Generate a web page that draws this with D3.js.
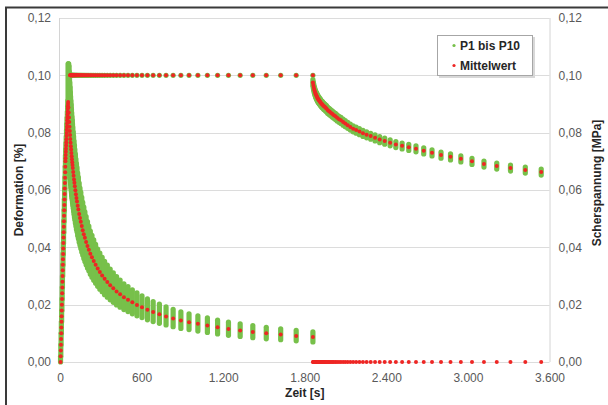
<!DOCTYPE html>
<html><head><meta charset="utf-8">
<script src="https://cdn.jsdelivr.net/npm/d3@7"></script>
<style>body{margin:0;background:#fff}svg{display:block}</style>
</head><body>
<svg id="c" width="608" height="405"></svg>
<script>
// ---------- DATA ----------
const xTicks = [0, 600, 1200, 1800, 2400, 3000, 3600];
const yTicks = [0, 0.02, 0.04, 0.06, 0.08, 0.10, 0.12];
const seriesNames = ["P1 bis P10", "Mittelwert"];
const xTitle = "Zeit [s]", yLeftTitle = "Deformation [%]", yRightTitle = "Scherspannung [MPa]";
const holdStart = 60, unloadAt = 1860;   // phase start times [s]

// Phase 1: loading ramp (absolute time, mean)
const rampT = [4,5,6,7,8,9,10,11,12,13,14,15,16,17,18,19,20,21,22,23,24,25,26,27,28,29,30,31,32,33,34,35,36,37,38,39,40,41,42,43,44,45,46,47,48,49,50,51,52,53,54,55,56,57,58,59];
const rampMean = [0,0.002,0.004,0.006,0.008,0.010,0.012,0.014,0.016,0.018,0.020,0.022,0.024,0.026,0.028,0.030,0.032,0.0339,0.0358,0.0377,0.0396,0.0415,0.0434,0.0453,0.0472,0.0491,0.0510,0.0529,0.0548,0.0567,0.0586,0.0605,0.0624,0.0643,0.0662,0.0681,0.0700,0.0711,0.0722,0.0733,0.0744,0.0755,0.0766,0.0777,0.0788,0.0799,0.0810,0.0821,0.0832,0.0843,0.0853,0.0863,0.0873,0.0883,0.0892,0.0900];
// P1..P10 spread on the ramp
const rampGT = [4,6,8,10,12,14,16,18,20,22,24,26,28,30,32,34,36,38,40,42,44,46,48,50,52,54,56,58];
const rampGLo = [0,0.002,0.006,0.010,0.014,0.018,0.022,0.026,0.030,0.0338,0.0376,0.0414,0.0452,0.0490,0.0528,0.0566,0.0604,0.0642,0.0680,0.0702,0.0724,0.0746,0.0768,0.0790,0.0812,0.0833,0.0853,0.0872];
const rampGHi = [0.002,0.006,0.010,0.014,0.018,0.022,0.026,0.030,0.034,0.0378,0.0416,0.0454,0.0492,0.0530,0.0568,0.0606,0.0644,0.0682,0.0720,0.0742,0.0764,0.0786,0.0808,0.0830,0.0852,0.0873,0.0893,0.0912];

// Phase 2: hold (time relative to holdStart)
const holdT = [0,2,4,6,8,10,12,14,16,18,20,22,24,26,28,30,32,34,37,40,43,46,49,53,57,61,65,70,75,81,87,93,100,107,115,123,132,142,152,163,175,188,202,217,233,250,268,288,309,332,356,382,410,440,472,506,543,583,625,671,720,772,829,889,954,1024,1099,1179,1265,1358,1457,1563,1677,1800];
const holdStressMean = [0.0907,0.0888,0.0870,0.0853,0.0837,0.0821,0.0806,0.0792,0.0778,0.0765,0.0753,0.0741,0.0729,0.0718,0.0707,0.0697,0.0687,0.0677,0.0663,0.0650,0.0637,0.0625,0.0613,0.0599,0.0585,0.0572,0.0560,0.0545,0.0532,0.0516,0.0502,0.0489,0.0474,0.0460,0.0446,0.0433,0.0419,0.0405,0.0392,0.0378,0.0365,0.0352,0.0339,0.0326,0.0314,0.0302,0.0290,0.0279,0.0268,0.0257,0.0246,0.0236,0.0226,0.0217,0.0208,0.0199,0.0191,0.0182,0.0174,0.0167,0.0159,0.0152,0.0145,0.0139,0.0133,0.0127,0.0121,0.0115,0.0110,0.0105,0.0100,0.0096,0.0091,0.0087];
const holdStressLo = [0.0735,0.0719,0.0705,0.0691,0.0678,0.0665,0.0653,0.0642,0.0630,0.0620,0.0610,0.0600,0.0590,0.0582,0.0573,0.0565,0.0556,0.0548,0.0537,0.0527,0.0516,0.0506,0.0497,0.0485,0.0474,0.0463,0.0454,0.0441,0.0431,0.0418,0.0407,0.0396,0.0384,0.0373,0.0361,0.0351,0.0339,0.0328,0.0318,0.0306,0.0296,0.0285,0.0275,0.0264,0.0254,0.0245,0.0235,0.0226,0.0217,0.0208,0.0199,0.0191,0.0183,0.0176,0.0168,0.0161,0.0155,0.0147,0.0141,0.0135,0.0129,0.0123,0.0117,0.0113,0.0108,0.0103,0.0098,0.0093,0.0089,0.0085,0.0081,0.0078,0.0074,0.0070];
const holdStressHi = [0.1040,0.1040,0.1040,0.1032,0.1013,0.0993,0.0975,0.0958,0.0941,0.0926,0.0911,0.0897,0.0882,0.0869,0.0855,0.0843,0.0831,0.0819,0.0802,0.0787,0.0771,0.0756,0.0742,0.0725,0.0708,0.0692,0.0678,0.0659,0.0644,0.0624,0.0607,0.0592,0.0574,0.0557,0.0540,0.0524,0.0507,0.0490,0.0474,0.0457,0.0442,0.0426,0.0410,0.0394,0.0380,0.0365,0.0351,0.0338,0.0324,0.0311,0.0298,0.0286,0.0273,0.0263,0.0252,0.0241,0.0231,0.0220,0.0211,0.0202,0.0192,0.0184,0.0175,0.0168,0.0161,0.0154,0.0146,0.0139,0.0133,0.0127,0.0121,0.0116,0.0110,0.0105];
const holdDefMean = [null,null,null,null,null,null,null,0.1,0.1,0.1,0.1,0.1,0.1,0.1,0.1,0.1,0.1,0.1,0.1,0.1,0.1,0.1,0.1,0.1,0.1,0.1,0.1,0.1,0.1,0.1,0.1,0.1,0.1,0.1,0.1,0.1,0.1,0.1,0.1,0.1,0.1,0.1,0.1,0.1,0.1,0.1,0.1,0.1,0.1,0.1,0.1,0.1,0.1,0.1,0.1,0.1,0.1,0.1,0.1,0.1,0.1,0.1,0.1,0.1,0.1,0.1,0.1,0.1,0.1,0.1,0.1,0.1,0.1,0.1];

// Phase 3: after unloading (time relative to unloadAt)
const recT = [0,3,6,9,12,15,18,21,24,27,30,33,36,39,42,45,48,52,56,60,65,70,75,81,87,93,100,108,116,124,134,144,154,166,178,192,206,222,238,256,275,296,318,342,368,395,425,457,491,528,568,610,656,705,758,815,876,942,1012,1088,1170,1258,1352,1453,1562,1679];
const recDefMean = [0.0975,0.0966,0.0959,0.0952,0.0947,0.0942,0.0938,0.0934,0.0931,0.0928,0.0925,0.0922,0.0919,0.0917,0.0915,0.0913,0.0911,0.0908,0.0906,0.0903,0.0900,0.0898,0.0895,0.0892,0.0890,0.0887,0.0884,0.0879,0.0876,0.0873,0.0869,0.0865,0.0861,0.0857,0.0852,0.0847,0.0843,0.0837,0.0832,0.0826,0.0820,0.0814,0.0809,0.0804,0.0798,0.0793,0.0788,0.0782,0.0776,0.0771,0.0765,0.0759,0.0754,0.0749,0.0744,0.0737,0.0730,0.0722,0.0716,0.0709,0.0700,0.0691,0.0684,0.0677,0.0670,0.0663];
const recDefLo = [0.0964,0.0955,0.0948,0.0941,0.0936,0.0931,0.0927,0.0923,0.0920,0.0917,0.0914,0.0911,0.0908,0.0906,0.0904,0.0902,0.0900,0.0897,0.0895,0.0892,0.0889,0.0887,0.0884,0.0881,0.0879,0.0876,0.0873,0.0868,0.0865,0.0862,0.0858,0.0854,0.0850,0.0846,0.0841,0.0836,0.0832,0.0826,0.0821,0.0815,0.0809,0.0803,0.0798,0.0793,0.0787,0.0782,0.0777,0.0771,0.0765,0.0760,0.0754,0.0748,0.0743,0.0738,0.0733,0.0726,0.0719,0.0711,0.0705,0.0698,0.0689,0.0680,0.0673,0.0666,0.0659,0.0652];
const recDefHi = [0.0985,0.0976,0.0969,0.0962,0.0957,0.0952,0.0948,0.0944,0.0941,0.0938,0.0935,0.0932,0.0929,0.0927,0.0925,0.0923,0.0921,0.0918,0.0916,0.0913,0.0910,0.0908,0.0905,0.0902,0.0900,0.0897,0.0894,0.0889,0.0886,0.0883,0.0879,0.0875,0.0871,0.0867,0.0862,0.0857,0.0853,0.0847,0.0842,0.0836,0.0830,0.0824,0.0819,0.0814,0.0808,0.0803,0.0798,0.0792,0.0786,0.0781,0.0775,0.0769,0.0764,0.0759,0.0754,0.0747,0.0740,0.0732,0.0726,0.0719,0.0710,0.0701,0.0694,0.0687,0.0680,0.0673];
const recStressMean = [0,0,0,0,0,0,0,0,0,0,0,0,0,0,0,0,0,0,0,0,0,0,0,0,0,0,0,0,0,0,0,0,0,0,0,0,0,0,0,0,0,0,0,0,0,0,0,0,0,0,0,0,0,0,0,0,0,0,0,0,0,0,0,0,0,0];

// ---------- CHART ----------
const GREEN = "#77c04a", RED = "#ee2624";
const FONT = "'Liberation Sans', Arial, sans-serif";
const svg = d3.select("#c");
const L = 60, R = 549.5, T = 18, B = 362;
const x = d3.scaleLinear().domain([0, 3600]).range([L, R]);
const y = d3.scaleLinear().domain([0, 0.12]).range([B, T]);
const loc = d3.formatLocale({decimal: ",", thousands: ".", grouping: [3], currency: ["", "€"]});
const fx = loc.format(",.0f"), fy = loc.format(".2f");

svg.append("rect").attr("width", 608).attr("height", 405).attr("fill", "#fff");

// grid
svg.append("g").selectAll("line").data(yTicks).join("line")
  .attr("x1", L).attr("x2", R).attr("y1", d => Math.round(y(d)) + 0.5).attr("y2", d => Math.round(y(d)) + 0.5)
  .attr("stroke", "#dcdcdc").attr("stroke-width", 1);
svg.append("line").attr("x1", L - 0.5).attr("x2", L - 0.5).attr("y1", T).attr("y2", B).attr("stroke", "#d4d4d4");
svg.append("line").attr("x1", R + 0.5).attr("x2", R + 0.5).attr("y1", T).attr("y2", B).attr("stroke", "#d4d4d4");

// axes
function styleAxis(g) {
  g.select(".domain").remove();
  g.selectAll("line").remove();
  g.selectAll("text").attr("font-family", FONT).attr("font-size", 12).attr("fill", "#595959");
}
svg.append("g").attr("transform", `translate(${L},0)`)
  .call(d3.axisLeft(y).tickValues(yTicks).tickFormat(fy).tickSize(0).tickPadding(9)).call(styleAxis);
svg.append("g").attr("transform", `translate(${R},0)`)
  .call(d3.axisRight(y).tickValues(yTicks).tickFormat(fy).tickSize(0).tickPadding(9)).call(styleAxis);
svg.append("g").attr("transform", `translate(0,${B})`)
  .call(d3.axisBottom(x).tickValues(xTicks).tickFormat(fx).tickSize(0).tickPadding(11)).call(styleAxis);

// titles
svg.append("text").attr("x", (L + R) / 2).attr("y", 397).attr("text-anchor", "middle")
  .attr("font-family", FONT).attr("font-weight", "bold").attr("font-size", 12).attr("fill", "#262626").text(xTitle);
svg.append("text").attr("transform", "translate(23,190) rotate(-90)").attr("text-anchor", "middle")
  .attr("font-family", FONT).attr("font-weight", "bold").attr("font-size", 12).attr("fill", "#262626").text(yLeftTitle);
svg.append("text").attr("transform", "translate(601,183) rotate(-90)").attr("text-anchor", "middle")
  .attr("font-family", FONT).attr("font-weight", "bold").attr("font-size", 12).attr("fill", "#262626").text(yRightTitle);

// build point sets
const greenSets = [];
rampGT.forEach((t, i) => greenSets.push({t, lo: rampGLo[i], hi: rampGHi[i]}));
holdT.forEach((t, i) => greenSets.push({t: holdStart + t, lo: holdStressLo[i], hi: holdStressHi[i]}));
holdT.forEach((t, i) => { if (holdDefMean[i] != null) greenSets.push({t: holdStart + t, lo: holdDefMean[i], hi: holdDefMean[i]}); });
recT.forEach((t, i) => greenSets.push({t: unloadAt + t, lo: recDefLo[i], hi: recDefHi[i]}));

const redSets = [];
rampT.forEach((t, i) => redSets.push({t, v: rampMean[i]}));
holdT.forEach((t, i) => redSets.push({t: holdStart + t, v: holdStressMean[i]}));
holdT.forEach((t, i) => { if (holdDefMean[i] != null) redSets.push({t: holdStart + t, v: holdDefMean[i]}); });
recT.forEach((t, i) => redSets.push({t: unloadAt + t, v: recDefMean[i]}));
recT.forEach((t, i) => redSets.push({t: unloadAt + t, v: recStressMean[i]}));

svg.append("g").selectAll("line").data(greenSets).join("line")
  .attr("x1", d => x(d.t)).attr("x2", d => x(d.t))
  .attr("y1", d => y(d.lo)).attr("y2", d => y(d.hi))
  .attr("stroke", GREEN).attr("stroke-width", 5.2).attr("stroke-linecap", "round");
svg.append("g").selectAll("circle").data(redSets).join("circle")
  .attr("cx", d => x(d.t)).attr("cy", d => y(d.v)).attr("r", 2)
  .attr("fill", RED);

// legend
const lg = svg.append("g");
lg.append("rect").attr("x", 439).attr("y", 37).attr("width", 96).attr("height", 41).attr("fill", "#d8d8d8");
lg.append("rect").attr("x", 437.5).attr("y", 35.5).attr("width", 95).attr("height", 40).attr("fill", "#fff").attr("stroke", "#a6a6a6");
[GREEN, RED].forEach((c, i) => {
  lg.append("circle").attr("cx", 454).attr("cy", 45.5 + i * 20).attr("r", 1.6).attr("fill", c);
  lg.append("text").attr("x", 460).attr("y", 49.7 + i * 20).attr("font-family", FONT).attr("font-weight", "bold")
    .attr("font-size", 12).attr("fill", "#262626").text(seriesNames[i]);
});

// outer frame (only top/left visible in the picture)
svg.append("path").attr("d", "M6,410 V7.5 H612").attr("fill", "none").attr("stroke", "#3a3a3a").attr("stroke-width", 2);
</script>
</body></html>
